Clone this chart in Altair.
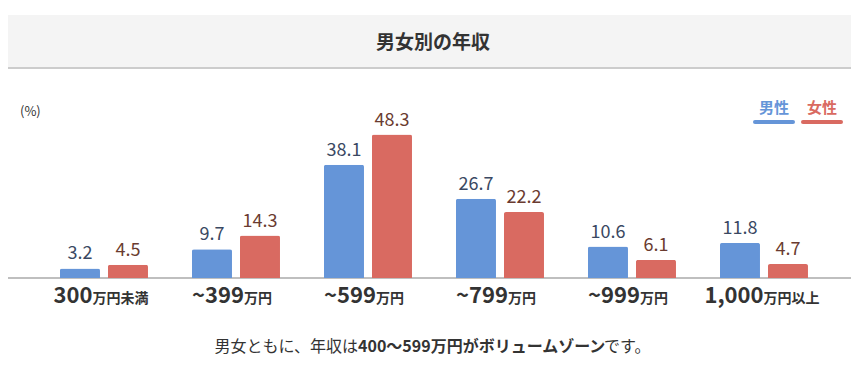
import altair as alt
import pandas as pd

# ---- data ----
categories = ["300万円未満", "~399万円", "~599万円", "~799万円", "~999万円", "1,000万円以上"]
label_numbers = ["300", "~399", "~599", "~799", "~999", "1,000"]
label_units = ["万円未満", "万円", "万円", "万円", "万円", "万円以上"]
genders = ["男性", "女性"]
male = [3.2, 9.7, 38.1, 26.7, 10.6, 11.8]
female = [4.5, 14.3, 48.3, 22.2, 6.1, 4.7]
title_text = "男女別の年収"
unit_text = "(%)"
caption_parts = ["男女ともに、年収は", "400〜599万円がボリュームゾーン", "です。"]

# ---- layout / style ----
W, H = 843, 358
FONT = "Noto Sans CJK JP"
BAR_COLORS = ["#6595d8", "#d96a61"]
LABEL_COLORS = ["#3a4862", "#6a3b30"]
DARK = "#333333"
PAD_OUTER = 0.1932
HALF_BAND = W / (len(categories) + 2 * PAD_OUTER) / 2

df = pd.DataFrame({
    "category": categories * 2,
    "gender": [genders[0]] * len(categories) + [genders[1]] * len(categories),
    "value": male + female,
})
cat_df = pd.DataFrame({"category": categories, "num": label_numbers, "unit": label_units})
one = pd.DataFrame({"k": [0]})

xscale = alt.Scale(type="band", domain=categories, paddingInner=0, paddingOuter=PAD_OUTER, align=0.588)
offscale = alt.Scale(type="band", domain=genders, paddingInner=1 / 6, paddingOuter=0.4583)
k = 2.97
yscale = alt.Scale(domain=[-88 / k, 270 / k], zero=False, nice=False)

X = alt.X("category:N", sort=categories, scale=xscale, axis=None)
XO = alt.XOffset("gender:N", sort=genders, scale=offscale)
Y = alt.Y("value:Q", scale=yscale, axis=None)

header = alt.Chart(one).mark_rect(color="#f4f4f4").encode(
    x=alt.value(0), x2=alt.value(W), y=alt.value(7), y2=alt.value(60))
header_line = alt.Chart(one).mark_rule(color="#cccccc", strokeWidth=2).encode(
    x=alt.value(0), x2=alt.value(W), y=alt.value(60))
title = alt.Chart(one).mark_text(text=title_text, font=FONT, fontSize=19, fontWeight="bold",
                                 color=DARK, align="center", baseline="middle").encode(
    x=alt.value(425), y=alt.value(35))
unit = alt.Chart(one).mark_text(text=unit_text, font=FONT, fontSize=13, color=DARK,
                                align="left", baseline="middle").encode(
    x=alt.value(12), y=alt.value(103.5))

legend_layers = []
for g, c, cx in zip(genders, BAR_COLORS, [766, 814]):
    legend_layers.append(alt.Chart(one).mark_text(text=g, font=FONT, fontSize=15, fontWeight="bold",
                                                  color=c, align="center", baseline="middle").encode(
        x=alt.value(cx), y=alt.value(100)))
    legend_layers.append(alt.Chart(one).mark_rule(color=c, strokeWidth=4, strokeCap="round").encode(
        x=alt.value(cx - 19), x2=alt.value(cx + 19), y=alt.value(114)))

baseline = alt.Chart(one).mark_rule(color="#aaaaaa", strokeWidth=1.5).encode(
    x=alt.value(0), x2=alt.value(W), y=alt.Y(datum=0, scale=yscale, axis=None))

bars = alt.Chart(df).mark_bar(cornerRadiusTopLeft=2, cornerRadiusTopRight=2).encode(
    x=X, xOffset=XO, y=Y,
    color=alt.Color("gender:N", scale=alt.Scale(domain=genders, range=BAR_COLORS), legend=None))

value_layers = []
for g, c in zip(genders, LABEL_COLORS):
    value_layers.append(alt.Chart(df).transform_filter(alt.datum.gender == g).mark_text(
        font=FONT, fontSize=18, color=c, baseline="alphabetic", align="center", dy=-9).encode(
        x=X, xOffset=XO, y=Y, text=alt.Text("value:Q", format=".1f")))

xl_base = alt.Chart(cat_df).transform_calculate(
    shift=f"{HALF_BAND} + (11*length(datum.num) - 14*length(datum.unit)) / 2")
xl_num = xl_base.mark_text(font=FONT, fontSize=22, fontWeight="bold", color=DARK,
                           align="right", baseline="alphabetic").encode(
    x=X, xOffset=alt.XOffset("shift:Q", scale=None), y=alt.value(295), text="num:N")
xl_unit = xl_base.mark_text(font=FONT, fontSize=14, fontWeight="bold", color=DARK,
                            align="left", baseline="alphabetic").encode(
    x=X, xOffset=alt.XOffset("shift:Q", scale=None), y=alt.value(295), text="unit:N")

cap1 = alt.Chart(one).mark_text(text=caption_parts[0], font=FONT, fontSize=16, color=DARK,
                                align="right", baseline="middle").encode(x=alt.value(350), y=alt.value(338.5))
cap2 = alt.Chart(one).mark_text(text=caption_parts[1], font=FONT, fontSize=16, fontWeight="bold",
                                color=DARK, align="left", baseline="middle").encode(x=alt.value(350), y=alt.value(338.5))
cap3 = alt.Chart(one).mark_text(text=caption_parts[2], font=FONT, fontSize=16, color=DARK,
                                align="left", baseline="middle").encode(x=alt.value(596), y=alt.value(338.5))

chart = alt.layer(
    header, header_line, title, unit, *legend_layers, baseline, bars, *value_layers,
    xl_num, xl_unit, cap1, cap2, cap3
).resolve_scale(xOffset="independent").properties(
    width=W, height=H, padding=0, autosize=alt.AutoSizeParams(type="none"), background="white"
).configure_view(stroke=None)

chart.save("out.html", embed_options={"renderer": "svg", "actions": False})
